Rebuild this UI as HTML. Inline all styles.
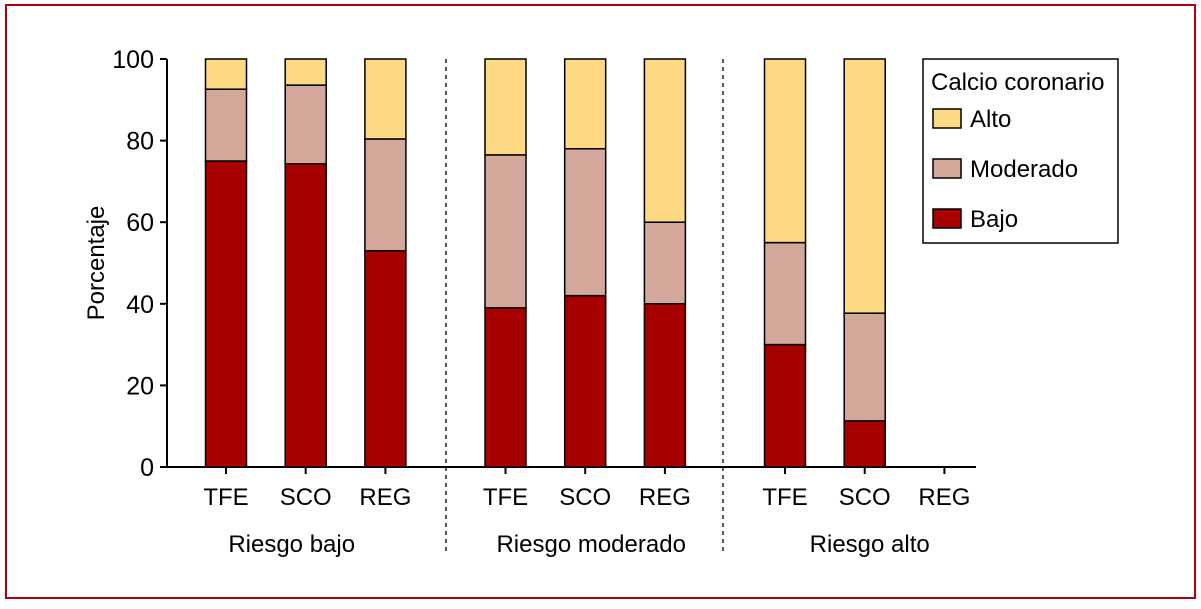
<!DOCTYPE html>
<html><head><meta charset="utf-8"><style>
body{margin:0;background:#fff;}
svg text{font-family:"Liberation Sans Narrow","Liberation Sans",sans-serif;fill:#000;}
</style></head><body>
<svg id="chart" width="1201" height="604" viewBox="0 0 1201 604" xmlns="http://www.w3.org/2000/svg">
<rect x="6" y="5" width="1189" height="593" fill="none" stroke="#b0000f" stroke-width="2"/>
<g id="plot"></g>
<g>
<rect x="923" y="59" width="195" height="184" fill="#fff" stroke="#000" stroke-width="1.5"/>
<text x="931" y="90" font-size="24">Calcio coronario</text>
<rect x="933" y="109" width="28" height="19" fill="#fdd983" stroke="#000" stroke-width="1.5"/>
<text x="970" y="127" font-size="24">Alto</text>
<rect x="933" y="159" width="28" height="19" fill="#d4a79b" stroke="#000" stroke-width="1.5"/>
<text x="970" y="177" font-size="24">Moderado</text>
<rect x="933" y="209" width="28" height="19" fill="#a70000" stroke="#000" stroke-width="1.5"/>
<text x="970" y="227" font-size="24">Bajo</text>
</g>
</svg>
<script>
const categories=["TFE","SCO","REG","TFE","SCO","REG","TFE","SCO","REG"];
const groups=["Riesgo bajo","Riesgo moderado","Riesgo alto"];
const bajo=[75,74.3,53,39,42,40,30,11.3,null];
const moderado=[17.6,19.3,27.4,37.5,36,20,25,26.4,null];
const alto=[7.4,6.4,19.6,23.5,22,40,45,62.3,null];
const yTicks=[0,20,40,60,80,100];
const NS="http://www.w3.org/2000/svg";
const g=document.getElementById('plot');
function y(v){return 467-v*4.08;}
function xc(i){const grp=Math.floor(i/3),k=i%3;return 226+grp*279.5+k*79.7;}
function mk(t,a,txt){const e=document.createElementNS(NS,t);for(const k in a)e.setAttribute(k,a[k]);if(txt!==undefined)e.textContent=txt;g.appendChild(e);return e;}
let e;
e=mk('line',{x1:167,y1:59,x2:167,y2:467,stroke:'#000','stroke-width':2});


e=mk('line',{x1:167,y1:467,x2:976,y2:467,stroke:'#000','stroke-width':2});


yTicks.forEach(t=>{
 e=mk('line',{x1:160,y1:y(t),x2:167,y2:y(t),stroke:'#000','stroke-width':2});
 
 
 e=mk('text',{x:154,y:y(t)+9,'font-size':25,'text-anchor':'end'},String(t));
 
 
});
e=mk('text',{x:104,y:263,'font-size':24,'text-anchor':'middle',transform:'rotate(-90 104 263)'},'Porcentaje');


[446,723].forEach(x=>{
 e=mk('line',{x1:x,y1:59,x2:x,y2:553,stroke:'#000','stroke-width':1.3,'stroke-dasharray':'4,4'});
 
 
});
const W=41;
categories.forEach((c,i)=>{
 const x=xc(i);
 e=mk('line',{x1:x,y1:467,x2:x,y2:474,stroke:'#000','stroke-width':2});
 
 
 e=mk('text',{x:x,y:505,'font-size':24,'text-anchor':'middle'},c);
 
 
 if(bajo[i]==null)return;
 let base=0;
 [[bajo[i],'#a70000','bajo'],[moderado[i],'#d4a79b','moderado'],[alto[i],'#fdd983','alto']].forEach(([v,col,nm])=>{
  e=mk('rect',{x:x-W/2,y:y(base+v),width:W,height:v*4.08,fill:col,stroke:'#000','stroke-width':1.5});
  
  
  base+=v;
 });
});
const groupOffsets=[-14,6,5];
groups.forEach((gname,j)=>{
 e=mk('text',{x:xc(j*3+1)+groupOffsets[j],y:552,'font-size':24,'text-anchor':'middle'},gname);
 
 
});
</script>
</body></html>
